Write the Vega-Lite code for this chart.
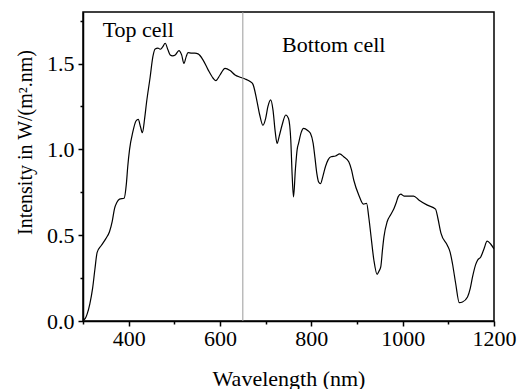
{
  "$schema": "https://vega.github.io/schema/vega-lite/v6.json",
  "width": 411,
  "height": 309,
  "autosize": {"type": "none"},
  "padding": {"left": 83, "top": 12, "right": 23, "bottom": 68},
  "config": {
    "view": {"stroke": "black", "strokeWidth": 1.5},
    "font": "Liberation Serif",
    "text": {"font": "Liberation Serif"},
    "axis": {
      "grid": false,
      "domainColor": "black",
      "domainWidth": 1.5,
      "tickColor": "black",
      "tickWidth": 1.5,
      "labelColor": "black",
      "titleColor": "black",
      "labelFont": "Liberation Serif",
      "titleFont": "Liberation Serif",
      "titleFontWeight": "normal",
      "labelFontSize": 22,
      "labelFlush": false,
      "labelOverlap": false
    }
  },
  "datasets": {
    "spectrum": [
      {"wl": 300, "intensity": 0.005}, {"wl": 305, "intensity": 0.015}, {"wl": 309, "intensity": 0.04},
      {"wl": 315, "intensity": 0.10}, {"wl": 321, "intensity": 0.19}, {"wl": 326, "intensity": 0.30},
      {"wl": 331, "intensity": 0.40}, {"wl": 340, "intensity": 0.44}, {"wl": 350, "intensity": 0.48},
      {"wl": 358, "intensity": 0.52}, {"wl": 364, "intensity": 0.58}, {"wl": 369, "intensity": 0.655},
      {"wl": 374, "intensity": 0.69}, {"wl": 380, "intensity": 0.71}, {"wl": 390, "intensity": 0.715},
      {"wl": 395, "intensity": 0.80}, {"wl": 398, "intensity": 0.90}, {"wl": 402, "intensity": 1.00},
      {"wl": 409, "intensity": 1.10}, {"wl": 416, "intensity": 1.165}, {"wl": 421, "intensity": 1.175},
      {"wl": 426, "intensity": 1.13}, {"wl": 430, "intensity": 1.097}, {"wl": 435, "intensity": 1.18},
      {"wl": 439, "intensity": 1.27}, {"wl": 447, "intensity": 1.42}, {"wl": 453, "intensity": 1.54},
      {"wl": 458, "intensity": 1.585}, {"wl": 464, "intensity": 1.59}, {"wl": 469, "intensity": 1.583},
      {"wl": 474, "intensity": 1.595}, {"wl": 480, "intensity": 1.618}, {"wl": 486, "intensity": 1.58},
      {"wl": 491, "intensity": 1.55}, {"wl": 496, "intensity": 1.545}, {"wl": 502, "intensity": 1.55},
      {"wl": 510, "intensity": 1.575}, {"wl": 516, "intensity": 1.55}, {"wl": 521, "intensity": 1.50},
      {"wl": 526, "intensity": 1.54}, {"wl": 530, "intensity": 1.563}, {"wl": 538, "intensity": 1.56},
      {"wl": 545, "intensity": 1.56}, {"wl": 552, "intensity": 1.556}, {"wl": 563, "intensity": 1.52},
      {"wl": 574, "intensity": 1.463}, {"wl": 585, "intensity": 1.414}, {"wl": 591, "intensity": 1.40},
      {"wl": 600, "intensity": 1.433}, {"wl": 611, "intensity": 1.472}, {"wl": 622, "intensity": 1.459},
      {"wl": 633, "intensity": 1.433}, {"wl": 644, "intensity": 1.42}, {"wl": 655, "intensity": 1.41},
      {"wl": 666, "intensity": 1.395}, {"wl": 672, "intensity": 1.38}, {"wl": 681, "intensity": 1.28},
      {"wl": 687, "intensity": 1.20}, {"wl": 694, "intensity": 1.14}, {"wl": 700, "intensity": 1.18},
      {"wl": 705, "intensity": 1.25}, {"wl": 711, "intensity": 1.288}, {"wl": 716, "intensity": 1.23},
      {"wl": 721, "intensity": 1.10}, {"wl": 725, "intensity": 1.035}, {"wl": 730, "intensity": 1.08},
      {"wl": 736, "intensity": 1.142}, {"wl": 744, "intensity": 1.20}, {"wl": 750, "intensity": 1.18},
      {"wl": 755, "intensity": 1.054}, {"wl": 758, "intensity": 0.85}, {"wl": 761, "intensity": 0.723},
      {"wl": 765, "intensity": 0.88}, {"wl": 769, "intensity": 1.00}, {"wl": 772, "intensity": 1.035},
      {"wl": 778, "intensity": 1.10}, {"wl": 783, "intensity": 1.122}, {"wl": 792, "intensity": 1.11},
      {"wl": 798, "intensity": 1.093}, {"wl": 804, "intensity": 1.035}, {"wl": 808, "intensity": 0.95},
      {"wl": 812, "intensity": 0.86}, {"wl": 816, "intensity": 0.81}, {"wl": 820, "intensity": 0.80},
      {"wl": 825, "intensity": 0.84}, {"wl": 831, "intensity": 0.90}, {"wl": 837, "intensity": 0.94},
      {"wl": 843, "intensity": 0.957}, {"wl": 853, "intensity": 0.961}, {"wl": 862, "intensity": 0.973},
      {"wl": 871, "intensity": 0.957}, {"wl": 882, "intensity": 0.928}, {"wl": 888, "intensity": 0.88},
      {"wl": 893, "intensity": 0.82}, {"wl": 904, "intensity": 0.733}, {"wl": 914, "intensity": 0.681},
      {"wl": 921, "intensity": 0.685}, {"wl": 926, "intensity": 0.60}, {"wl": 930, "intensity": 0.51},
      {"wl": 937, "intensity": 0.354}, {"wl": 944, "intensity": 0.272}, {"wl": 948, "intensity": 0.29},
      {"wl": 952, "intensity": 0.315}, {"wl": 956, "intensity": 0.42}, {"wl": 959, "intensity": 0.49},
      {"wl": 966, "intensity": 0.578}, {"wl": 974, "intensity": 0.62}, {"wl": 981, "intensity": 0.656},
      {"wl": 986, "intensity": 0.69}, {"wl": 990, "intensity": 0.723}, {"wl": 996, "intensity": 0.739},
      {"wl": 1003, "intensity": 0.728}, {"wl": 1024, "intensity": 0.728}, {"wl": 1036, "intensity": 0.704},
      {"wl": 1054, "intensity": 0.675}, {"wl": 1072, "intensity": 0.652}, {"wl": 1077, "intensity": 0.60},
      {"wl": 1084, "intensity": 0.51}, {"wl": 1098, "intensity": 0.44}, {"wl": 1104, "intensity": 0.40},
      {"wl": 1109, "intensity": 0.335}, {"wl": 1116, "intensity": 0.22}, {"wl": 1124, "intensity": 0.107},
      {"wl": 1131, "intensity": 0.111}, {"wl": 1142, "intensity": 0.14}, {"wl": 1148, "intensity": 0.19},
      {"wl": 1153, "intensity": 0.257}, {"wl": 1160, "intensity": 0.33}, {"wl": 1164, "intensity": 0.354},
      {"wl": 1171, "intensity": 0.373}, {"wl": 1178, "intensity": 0.42}, {"wl": 1185, "intensity": 0.465},
      {"wl": 1193, "intensity": 0.447}, {"wl": 1200, "intensity": 0.42}
    ],
    "divider": [{"wl": 650}],
    "labels": [
      {"wl": 343, "intensity": 1.653, "label": "Top cell"},
      {"wl": 736, "intensity": 1.569, "label": "Bottom cell"}
    ]
  },
  "layer": [
    {
      "data": {"name": "spectrum"},
      "mark": {"type": "line", "color": "black", "strokeWidth": 1.2, "interpolate": "monotone", "clip": true},
      "encoding": {
        "x": {
          "field": "wl", "type": "quantitative",
          "scale": {"domain": [300, 1200], "nice": false, "zero": false},
          "axis": {
            "orient": "bottom",
            "values": [400, 600, 800, 1000, 1200],
            "format": "d",
            "tickSize": 5,
            "labelPadding": 2,
            "labelFont": "Liberation Serif",
            "labelFontSize": 22,
            "title": "Wavelength (nm)",
            "titleFont": "Liberation Serif",
            "titleFontSize": 22,
            "titleY": 64,
            "titleBaseline": "alphabetic"
          }
        },
        "y": {
          "field": "intensity", "type": "quantitative",
          "scale": {"domain": [0, 1.8], "nice": false},
          "axis": {
            "orient": "left",
            "values": [0, 0.5, 1, 1.5],
            "format": ".1f",
            "tickSize": 5,
            "labelPadding": 4,
            "labelFont": "Liberation Serif",
            "labelFontSize": 22,
            "title": "Intensity in W/(m².nm)",
            "titleFont": "Liberation Serif",
            "titleFontSize": 20,
            "titleX": -52,
            "titleY": 130,
            "titleBaseline": "alphabetic",
            "titleAngle": -90,
            "titleAlign": "center"
          }
        }
      }
    },
    {
      "data": {"name": "divider"},
      "mark": {"type": "rule", "color": "#9a9a9a", "strokeWidth": 1},
      "encoding": {
        "x": {
          "field": "wl", "type": "quantitative",
          "scale": {"domain": [300, 1200], "nice": false, "zero": false},
          "axis": {
            "orient": "bottom",
            "values": [300, 500, 700, 900, 1100],
            "tickSize": 3,
            "labels": false,
            "domain": false,
            "title": null
          }
        }
      }
    },
    {
      "data": {"name": "labels"},
      "mark": {"type": "text", "align": "left", "baseline": "alphabetic", "fontSize": 22, "font": "Liberation Serif", "color": "black"},
      "encoding": {
        "x": {
          "field": "wl", "type": "quantitative",
          "scale": {"domain": [300, 1200], "nice": false, "zero": false},
          "axis": null
        },
        "y": {
          "field": "intensity", "type": "quantitative",
          "scale": {"domain": [0, 1.8], "nice": false},
          "axis": {
            "orient": "left",
            "values": [0.25, 0.75, 1.25, 1.75],
            "tickSize": 3,
            "labels": false,
            "domain": false,
            "title": null
          }
        },
        "text": {"field": "label"}
      }
    }
  ],
  "resolve": {"axis": {"x": "independent", "y": "independent"}}
}
